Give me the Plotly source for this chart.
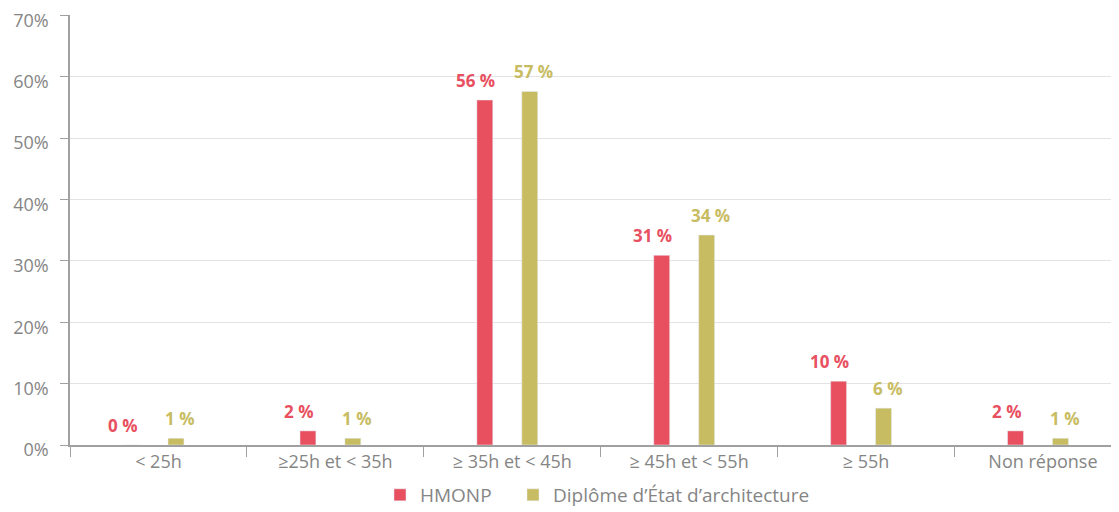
import plotly.graph_objects as go

categories = ["< 25h", "≥25h et < 35h", "≥ 35h et < 45h", "≥ 45h et < 55h", "≥ 55h", "Non réponse"]
hmonp = [0.0, 2.3, 56.2, 30.9, 10.4, 2.3]
hmonp_labels = ["0 %", "2 %", "56 %", "31 %", "10 %", "2 %"]
dea = [1.1, 1.1, 57.6, 34.2, 6.0, 1.1]
dea_labels = ["1 %", "1 %", "57 %", "34 %", "6 %", "1 %"]
series_names = ["HMONP", "Diplôme d’État d’architecture"]
y_ticks = [0, 10, 20, 30, 40, 50, 60, 70]
y_tick_labels = [f"{v}%" for v in y_ticks]

RED = "#E8505F"
OLIVE = "#C8BC62"
GRAY = "#858585"
FONT = "Open Sans, Lato, sans-serif"
BAR_W = 0.09
OFFS = [-0.2, 0.054]

fig = go.Figure()
for name, vals, labels, color, off, xs, lg in [
    (series_names[0], hmonp, hmonp_labels, RED, OFFS[0], -9, "legend"),
    (series_names[1], dea, dea_labels, OLIVE, OFFS[1], 4, "legend2"),
]:
    fig.add_trace(go.Bar(
        x=categories, y=vals, name=name, marker_color=color,
        width=BAR_W, offset=off, legend=lg,
    ))
    for i, (v, t) in enumerate(zip(vals, labels)):
        fig.add_annotation(
            x=i + off + BAR_W / 2, y=v, xref="x", yref="y", text=t,
            showarrow=False, yanchor="bottom", xanchor="center",
            xshift=xs, yshift=6,
            font=dict(color=color, size=17, family=FONT, weight="bold"),
        )

legend_common = dict(orientation="h", xanchor="left", y=-0.072, yanchor="top",
                     font=dict(size=19, color=GRAY), itemwidth=30)
fig.update_layout(
    width=1111, height=504,
    margin=dict(l=62, r=0, t=7, b=67, autoexpand=False),
    paper_bgcolor="white", plot_bgcolor="white",
    font=dict(family=FONT, color=GRAY, size=17),
    barmode="group",
    showlegend=True,
    legend=dict(x=0.2955, **legend_common),
    legend2=dict(x=0.4223, **legend_common),
)
fig.update_xaxes(
    range=[-0.5, 5.43], showline=True, linecolor="#a0a0a0", linewidth=1.5,
    ticks="outside", tickson="boundaries", ticklen=10, tickcolor="#a0a0a0",
    showgrid=False, tickfont=dict(size=18, color=GRAY), automargin=False,
)
fig.update_yaxes(
    range=[0, 70.05], tickmode="array", tickvals=y_ticks, ticktext=y_tick_labels,
    showline=True, linecolor="#a0a0a0", linewidth=1.5, ticks="outside", ticklen=8,
    tickcolor="#a0a0a0", gridcolor="#e3e3e3", zeroline=False,
    ticklabelstandoff=8, ticklabeloverflow="allow", ticklabelshift=5,
    tickfont=dict(size=18, color=GRAY), automargin=False,
)

fig.write_html("out.html")
